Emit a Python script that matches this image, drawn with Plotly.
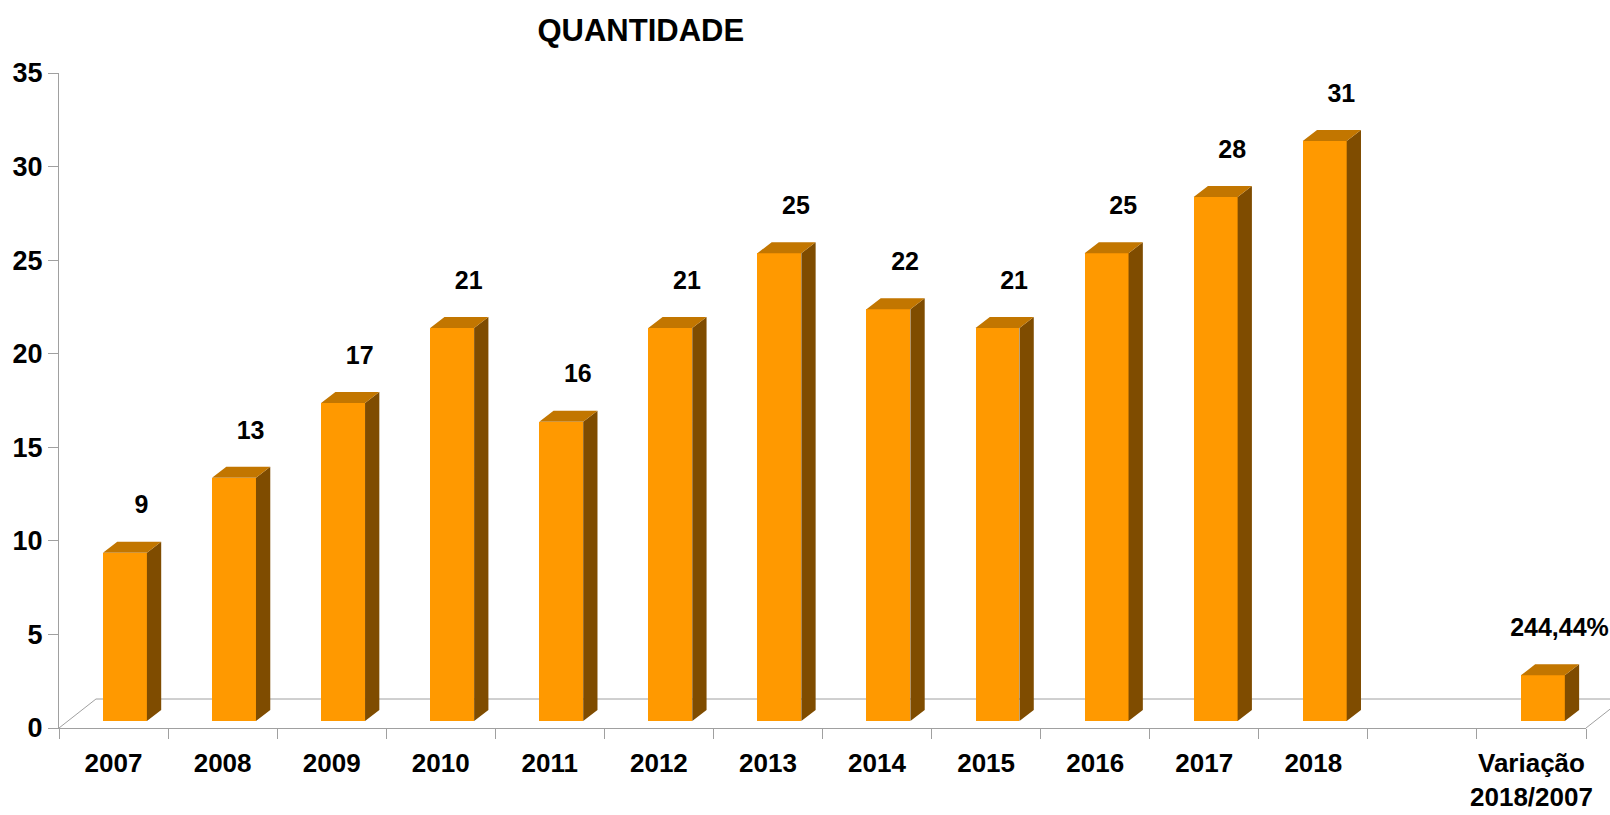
import plotly.graph_objects as go

# ---- data ----
anos = ["2007", "2008", "2009", "2010", "2011", "2012",
        "2013", "2014", "2015", "2016", "2017", "2018"]
quantidade = [9, 13, 17, 21, 16, 21, 25, 22, 21, 25, 28, 31]
variacao_label = "Variação<br>2018/2007"
variacao_pct = 244.44
titulo = "QUANTIDADE"
y_ticks = [0, 5, 10, 15, 20, 25, 30, 35]

# ---- styling / geometry (in axis units) ----
FRONT = "#FF9900"
SIDE = "#7F4C00"
TOP = "#C27600"
GRID = "#A0A0A0"
FONT = "Liberation Sans Narrow, Arial Narrow, Liberation Sans, Arial"
BASE = 0.37          # bars stand slightly behind the front floor edge
BAR_W = 0.403
BAR_OFF = -0.097
DX, DY = 0.131, 0.588  # 3-D depth of the bars
FLOOR_DX, FLOOR_DY = 0.339, 1.549
N_BANDS = 14

# positions: years then an empty slot then the variation bar
xs = list(range(len(anos))) + [len(anos) + 1]
vals = quantidade + [variacao_pct / 100.0]
labels = [str(v) for v in quantidade] + [f"{variacao_pct:.2f}".replace(".", ",") + "%"]
ticktext = anos + [variacao_label]

fig = go.Figure()

# side and top faces
side_x, side_y, top_x, top_y = [], [], [], []
for x, v in zip(xs, vals):
    x0 = x + BAR_OFF
    x1 = x0 + BAR_W
    b = BASE
    t = BASE + v
    side_x += [x1, x1 + DX, x1 + DX, x1, x1, None]
    side_y += [b, b + DY, t + DY, t, b, None]
    top_x += [x0, x1, x1 + DX, x0 + DX, x0, None]
    top_y += [t, t, t + DY, t + DY, t, None]

fig.add_trace(go.Scatter(x=side_x, y=side_y, mode="lines", fill="toself",
                         fillcolor=SIDE, line=dict(width=0, color=SIDE),
                         hoverinfo="skip", showlegend=False))
fig.add_trace(go.Scatter(x=top_x, y=top_y, mode="lines", fill="toself",
                         fillcolor=TOP, line=dict(width=0, color=TOP),
                         hoverinfo="skip", showlegend=False))
# front faces
fig.add_trace(go.Bar(x=xs, y=vals, base=BASE, width=BAR_W, offset=BAR_OFF,
                     marker=dict(color=FRONT, line=dict(width=0)),
                     showlegend=False))
# value labels
fig.add_trace(go.Scatter(x=[x + 0.257 for x in xs], y=[v + 2.8 for v in vals],
                         mode="text", text=labels, textposition="middle center",
                         cliponaxis=False,
                         textfont=dict(family=FONT, size=25, color="black", weight="bold"),
                         hoverinfo="skip", showlegend=False))

# floor (back edge and diagonals)
def px(xd):
    return (xd + 0.5) / N_BANDS
def py(yd):
    return yd / 35.0

floor = [
    (-0.5, 0, -0.5 + FLOOR_DX, FLOOR_DY),
    (-0.5 + FLOOR_DX, FLOOR_DY, N_BANDS - 0.5 + FLOOR_DX, FLOOR_DY),
    (N_BANDS - 0.5, 0, N_BANDS - 0.5 + FLOOR_DX, FLOOR_DY),
]
for x0, y0, x1, y1 in floor:
    fig.add_shape(type="line", xref="paper", yref="paper",
                  x0=px(x0), y0=py(y0), x1=px(x1), y1=py(y1),
                  line=dict(color=GRID, width=1), layer="below")

fig.update_layout(
    width=1610, height=815,
    margin=dict(l=59, r=24, t=73, b=87),
    plot_bgcolor="white", paper_bgcolor="white",
    bargap=0,
    title=dict(text=titulo, x=0.381, xref="paper", xanchor="center",
               y=1 - 30.5 / 815, yref="container", yanchor="middle",
               font=dict(family="Liberation Sans, Arial", size=31, color="black", weight="bold")),
    xaxis=dict(range=[-0.5, N_BANDS - 0.5], tickvals=xs, ticktext=ticktext,
               ticks="", showgrid=False, zeroline=False, automargin=False,
               showline=True, linecolor=GRID, linewidth=1,
               ticklabelstandoff=12,
               minor=dict(tickvals=[k - 0.5 for k in range(N_BANDS + 1)],
                          ticks="outside", ticklen=10, tickcolor=GRID, tickwidth=1),
               tickfont=dict(family=FONT, size=26, color="black", weight="bold")),
    yaxis=dict(range=[0, 35], tickvals=y_ticks, ticks="outside", ticklen=10,
               tickcolor=GRID, showgrid=False, zeroline=False, automargin=False,
               showline=True, linecolor=GRID, linewidth=1,
               tickfont=dict(family=FONT, size=27, color="black", weight="bold")),
)

fig.write_html("out.html", config={"displayModeBar": False},
               post_script="document.body.style.margin='0';document.body.style.overflow='hidden';")
